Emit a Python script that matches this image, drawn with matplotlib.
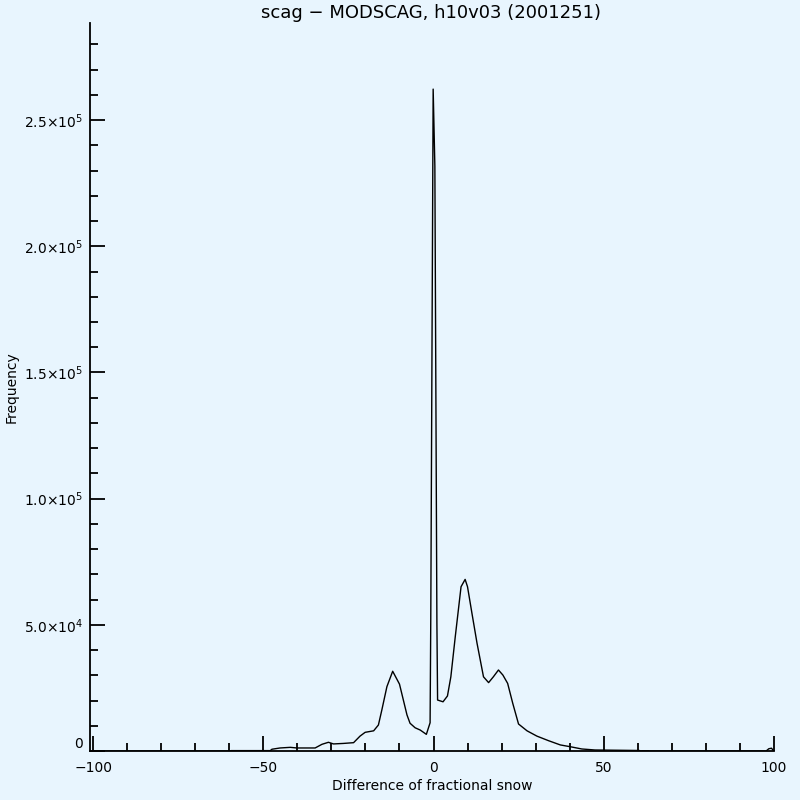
import matplotlib
matplotlib.use("Agg")
import matplotlib.pyplot as plt
from matplotlib.ticker import MultipleLocator

# difference of fractional snow (x) and pixel counts (frequency)
diff = [-100, -60, -59.5, -48, -47.5, -45.1, -42.1, -40.2, -34.8, -32.8, -30.9,
        -29.4, -26.5, -23.5, -21.6, -20.1, -17.6, -16.2, -15.2, -13.7, -12.0,
        -10.0, -7.8, -6.9, -5.4, -3.9, -2.1, -1.0, -0.8, -0.1, 0.4, 1.0, 1.2,
        2.8, 4.1, 5.1, 6.4, 8.1, 9.3, 10.0, 11.3, 12.8, 14.7, 16.2, 17.6, 19.1,
        20.4, 21.8, 23.3, 25.0, 27.5, 30.4, 33.8, 37.3, 40.2, 43.6, 47.5, 60.5,
        61.0, 61.3, 63.2, 63.5, 97.8, 98.6, 99.4, 100]
freq = [0, 0, 150, 150, 700, 1200, 1450, 1200, 1200, 2650, 3450,
        2800, 3000, 3300, 5900, 7400, 8000, 10300, 16200, 25500, 31600,
        26500, 14300, 11000, 9200, 8300, 6600, 11200, 53000, 262300, 231800, 50600, 20200,
        19500, 21800, 29400, 45300, 65100, 68000, 65100, 54600, 42700, 29400, 27100, 29400, 32100,
        30100, 26800, 18900, 10700, 8000, 5900, 4100, 2400, 1700, 800, 400, 200,
        0, 100, 100, 0, 0, 900, 1100, 0]

yticks = [0, 50000, 100000, 150000, 200000, 250000]
ytick_labels = ['0', r'$5.0{\times}10^{4}$', r'$1.0{\times}10^{5}$', r'$1.5{\times}10^{5}$',
                r'$2.0{\times}10^{5}$', r'$2.5{\times}10^{5}$']
xticks = [-100, -50, 0, 50, 100]
xtick_labels = ['\u2212100', '\u221250', '0', '50', '100']

bg = '#e8f5fe'
fig = plt.figure(figsize=(8, 8), dpi=100, facecolor=bg)
ax = fig.add_axes([0.1125, 0.06125, 0.8545, 0.91])
ax.set_facecolor(bg)

ax.plot(diff, freq, color='black', lw=1.0)

ax.set_xlim(-101, 100)
ax.set_ylim(0, 288500)
ax.set_xticks(xticks)
ax.set_xticklabels(xtick_labels)
ax.set_yticks(yticks)
ax.set_yticklabels(ytick_labels)
ax.xaxis.set_minor_locator(MultipleLocator(10))
ax.yaxis.set_minor_locator(MultipleLocator(10000))

for s in ['top', 'right']:
    ax.spines[s].set_visible(False)
for s in ['left', 'bottom']:
    ax.spines[s].set_linewidth(1.3)

ax.tick_params(which='both', direction='in', width=1.3, labelsize=10, color='black')
ax.tick_params(which='major', length=11, pad=5)
ax.tick_params(which='minor', length=5.5)
ax.tick_params(axis='x', which='major', pad=7)

# the "0" label sits on the axis line, as in the original
ax.get_yticklabels()[0].set_verticalalignment('bottom')

fig.text(0.539, 1 - 13 / 800, 'scag \u2212 MODSCAG, h10v03 (2001251)',
         fontsize=13, ha='center', va='center')
ax.set_xlabel('Difference of fractional snow', fontsize=10, labelpad=3)
ax.set_ylabel('Frequency', fontsize=10, labelpad=4)

fig.savefig('out.png', dpi=100, facecolor=bg)
